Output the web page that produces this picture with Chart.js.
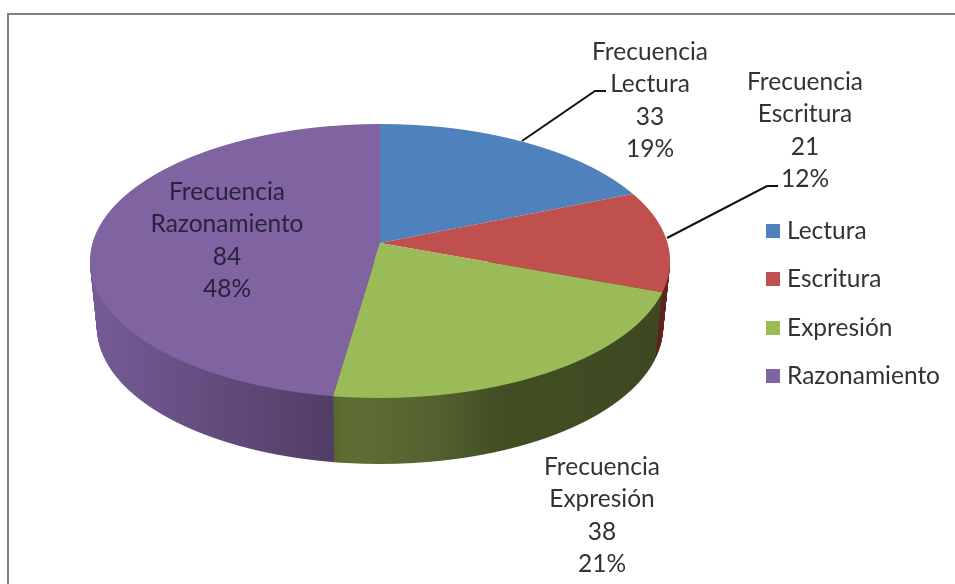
<!DOCTYPE html>
<html><head><meta charset="utf-8">
<script src="https://cdn.jsdelivr.net/npm/chart.js@4/dist/chart.umd.min.js"></script>
<style>html,body{margin:0;padding:0;background:#fff}canvas{display:block}</style>
</head><body>
<canvas id="c" width="955" height="584"></canvas>
<script>
const categories = ['Lectura', 'Escritura', 'Expresión', 'Razonamiento'];
const frecuencias = [33, 21, 38, 84];
const percentLabels = ['19%', '12%', '21%', '48%'];
const seriesName = 'Frecuencia';
const topColors = ['#4f81bd', '#c0504d', '#9bbb59', '#8064a2'];
const labelCenters = [[650, 52], [805, 82], [602, 467], [227, 192]];

// Perspective of the pie's top face
const CX = 380, CY = 243, A = 287.5, a = 134.6, b = 0.1314, DEPTH = 66, SHRINK = 0.024;
const FONT = '24.5px Lato';

// Side wall shading, per slice: [x on the page, colour]
const wallStops = [
  null,
  [[655, '#5a1f1d'], [672, '#6a2422']],
  [[333, '#57672e'], [350, '#5e6e33'], [420, '#566530'], [500, '#424f24'], [670, '#3d4820']],
  [[90, '#755b98'], [200, '#654e80'], [332, '#523d66']]
];

function swatch(color) {
  const s = document.createElement('canvas');
  s.width = 14; s.height = 14;
  const g = s.getContext('2d');
  g.fillStyle = color; g.fillRect(0, 0, 14, 14);
  return s;
}

function rowSetup(ctx, chart, yRow, off, xs) {
  const arc0 = chart.getDatasetMeta(0).data[0];
  const R = arc0.outerRadius;
  const yp = yRow + 0.5 - CY - off;
  const v = yp / (a + b * yp);
  const den = 1 - b * v;
  const sx = A * xs / den / R, sy = a / (den * den) / R;
  const e = CX - sx * arc0.x;
  ctx.save();
  ctx.beginPath();
  ctx.rect(0, yRow, chart.width, 1);
  ctx.clip();
  ctx.transform(sx, 0, 0, sy, e, yRow + 0.5 - sy * (arc0.y + R * v));
  return X => (X - e) / sx;
}

function drawWith(arc, ctx, fill) {
  const o = arc.options;
  arc.options = Object.assign({}, o, {backgroundColor: fill, borderWidth: 0});
  arc.draw(ctx);
  arc.options = o;
}

const pie3d = {
  id: 'pie3d',
  beforeDraw(chart) {
    const ctx = chart.ctx;
    ctx.save();
    ctx.fillStyle = '#808080';
    ctx.fillRect(7, 13, chart.width - 7, 2);
    ctx.fillRect(7, 13, 2, chart.height - 13);
    ctx.restore();
  },
  beforeDatasetsDraw(chart) {
    const ctx = chart.ctx;
    const arcs = chart.getDatasetMeta(0).data;
    // side wall: stacked copies of the lower half
    for (let d = DEPTH; d >= 1; d--) {
      const xs = 1 - SHRINK * d / DEPTH;
      for (let y = CY + 18 + d; y <= CY + 155 + d; y++) {
        for (let i = 1; i < arcs.length; i++) {
          const toSrc = rowSetup(ctx, chart, y, d, xs);
          const st = wallStops[i];
          const x0 = st[0][0], x1 = st[st.length - 1][0];
          const g = ctx.createLinearGradient(toSrc(x0), 0, toSrc(x1), 0);
          st.forEach(p => g.addColorStop((p[0] - x0) / (x1 - x0), p[1]));
          drawWith(arcs[i], ctx, g);
          ctx.restore();
        }
      }
    }
    // top face
    for (let y = CY - 120; y <= CY + 156; y++) {
      rowSetup(ctx, chart, y, 0, 1);
      arcs.forEach(arc => arc.draw(ctx));
      ctx.restore();
    }
    return false;
  },
  afterDraw(chart) {
    const ctx = chart.ctx;
    ctx.save();
    ctx.strokeStyle = '#111';
    ctx.lineWidth = 2;
    ctx.beginPath();
    ctx.moveTo(522, 141); ctx.lineTo(595, 91); ctx.lineTo(606, 91);
    ctx.moveTo(667, 238); ctx.lineTo(767, 186); ctx.lineTo(778, 186);
    ctx.stroke();
    ctx.font = FONT;
    ctx.textAlign = 'center';
    ctx.textBaseline = 'middle';
    categories.forEach((cat, i) => {
      ctx.fillStyle = i === 3 ? '#2a2140' : '#333';
      const lines = [seriesName, cat, String(frecuencias[i]), percentLabels[i]];
      lines.forEach((t, k) => ctx.fillText(t, labelCenters[i][0], labelCenters[i][1] + k * 32.4));
    });
    ctx.restore();
  }
};

new Chart(document.getElementById('c'), {
  type: 'pie',
  data: {
    labels: categories,
    datasets: [{data: frecuencias, backgroundColor: topColors, borderWidth: 0}]
  },
  plugins: [pie3d],
  options: {
    responsive: false,
    animation: false,
    events: [],
    layout: {padding: {top: 23, right: 5}},
    plugins: {
      tooltip: {enabled: false},
      legend: {
        position: 'right',
        labels: {
          color: '#333',
          font: {family: 'Lato', size: 24.5},
          usePointStyle: true,
          boxWidth: 4,
          boxHeight: 14,
          padding: 24,
          generateLabels: () => categories.map((text, i) => ({
            text, fillStyle: topColors[i], strokeStyle: topColors[i], lineWidth: 0,
            pointStyle: swatch(topColors[i]), hidden: false, index: i, fontColor: '#333'
          }))
        }
      }
    }
  }
});
</script>
</body></html>
